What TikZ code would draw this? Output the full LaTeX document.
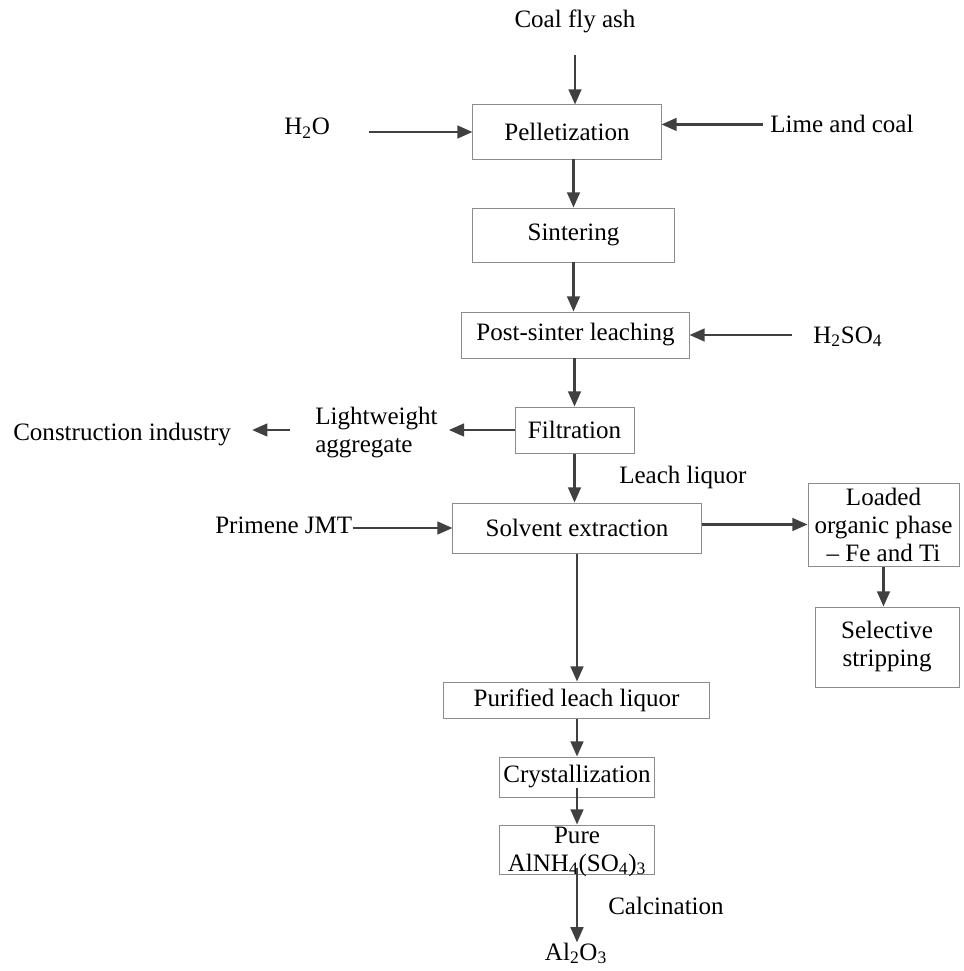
\documentclass[tikz,border=0pt]{standalone}
\usepackage{fontspec}
\setmainfont{Liberation Serif}
\usetikzlibrary{arrows.meta}
\definecolor{arrowgray}{HTML}{404040}
\definecolor{edgegray}{HTML}{8C8C8C}

\begin{document}
\begin{tikzpicture}[x=0.025cm, y=-0.025cm, font=\fontsize{17.8}{19.9}\selectfont,
	stage/.style={draw=edgegray, line width=0.7pt, inner sep=0pt, align=center},
	feed/.style={inner sep=0pt},
	flow/.style={draw=arrowgray, line width=1.6pt, -{Stealth[inset=0pt, length=0.38cm, width=0.32cm]}}]
\useasboundingbox (0,0) rectangle (963,971);

		\node[feed, anchor=base] (coal) at (575,28) {Coal fly ash};
		\node[feed, anchor=base west] (water) at (284,135) {H\textsubscript{2}O};
		\node[feed, anchor=base west] (lime) at (770,133) {Lime and coal};
\node[stage, minimum width=4.7cm, minimum height=1.35cm] (pellet) at (567,132) {Pelletization};
\node[stage, minimum width=5.025cm, minimum height=1.35cm] (sinter) at (573.5,235) {Sintering};
\node[stage, minimum width=5.675cm, minimum height=1.15cm] (leach) at (575.5,335) {Post-sinter leaching};
		\node[feed, anchor=base west] (acid) at (813,343) {H\textsubscript{2}SO\textsubscript{4}};
\node[stage, minimum width=2.975cm, minimum height=1.15cm] (filt) at (574.5,430) {Filtration};
		\node[feed, anchor=west, align=left] (aggr) at (315,433) {Lightweight\\aggregate};
		\node[feed, anchor=base west] (constr) at (13,440) {Construction industry};
		\node[feed, anchor=base west] (liquor) at (619,483) {Leach liquor};
\node[stage, minimum width=6.2cm, minimum height=1.25cm] (solv) at (577,528) {Solvent extraction};
		\node[feed, anchor=base west] (primene) at (215,533) {Primene JMT};
\node[stage, minimum width=3.775cm, minimum height=2.075cm] (loaded) at (883.5,524.5) {Loaded\\organic phase\\-- Fe and Ti};
\node[stage, minimum width=3.6cm, minimum height=2cm] (strip) at (887,647) {Selective\\stripping};
\node[stage, minimum width=6.625cm, minimum height=0.9cm] (purif) at (576.5,700) {Purified leach liquor};
\node[stage, minimum width=3.85cm, minimum height=1cm] (cryst) at (577,777) {Crystallization};
\node[stage, minimum width=3.85cm, minimum height=1.225cm,
	label={[feed, align=center, yshift=-0.05cm]center:Pure\\AlNH\textsubscript{4}(SO\textsubscript{4})\textsubscript{3}}] (pure) at (577,849.5) {};
		\node[feed, anchor=base west] (calc) at (608,914) {Calcination};
		\node[feed, anchor=base] (alumina) at (576,960) {Al\textsubscript{2}O\textsubscript{3}};

\draw[flow, shorten <=0.54cm] (coal.south) -- (coal.south |- pellet.north);
\draw[flow, shorten <=0.975cm] (water.east |- pellet.west) -- (pellet.west);
\draw[flow, shorten <=0.175cm] (lime.west) -- (lime.west -| pellet.east);
\draw[flow] (sinter.north |- pellet.south) -- (sinter.north);
\draw[flow] (sinter.south) -- (sinter.south |- leach.north);
\draw[flow, shorten <=0.525cm] (acid.west |- leach.east) -- (leach.east);
\draw[flow] (filt.north |- leach.south) -- (filt.north);
\draw[flow, shorten >=0.275cm] (filt.west) -- (filt.west -| aggr.east);
\draw[flow, shorten <=0.625cm, shorten >=0.525cm] (aggr.west |- filt.west) -- (constr.east |- filt.west);
\draw[flow] (filt.south) -- (filt.south |- solv.north);
\draw[flow] (primene.east |- solv.west) -- (solv.west);
\draw[flow] (solv.east |- loaded.west) -- (loaded.west);
\draw[flow] (loaded.south) -- (loaded.south |- strip.north);
\draw[flow] (solv.south) -- (solv.south |- purif.north);
\draw[flow] (cryst.north |- purif.south) -- (cryst.north);
\draw[flow, shorten <=-0.25cm] (cryst.south) -- (pure.north);
\draw[flow, shorten <=-0.175cm] (pure.south) -- (pure.south |- alumina.north);
\end{tikzpicture}
\end{document}
